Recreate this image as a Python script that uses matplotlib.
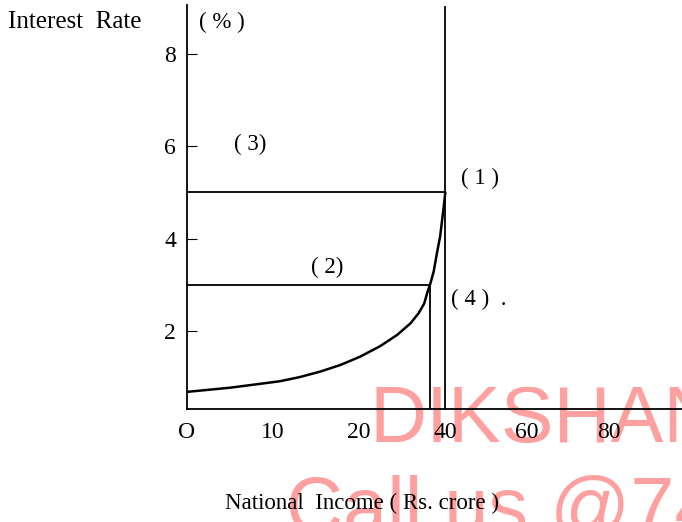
import numpy as np
import matplotlib
matplotlib.use("Agg")
import matplotlib.pyplot as plt

# National income (Rs. crore) vs interest rate (%) along the curve
income = [0, 5.0, 10.8, 13.1, 15.5, 17.8, 20.2, 24.9, 28.8, 31.9, 33.8, 35.1,
          35.9, 36.5, 37.3, 38.1, 38.8, 39.6, 40]
rate = [0.69, 0.78, 0.92, 1.01, 1.13, 1.27, 1.45, 1.68, 1.92, 2.17, 2.39, 2.60,
        2.86, 3.02, 3.29, 3.71, 4.05, 4.66, 5.0]

# Reference levels
rate_high = 5.0
rate_low = 3.0
income_full = 40
income_low = 36.5

x_ticks = [0, 10, 20, 40, 60, 80]
x_tick_labels = ["O", "10", "20", "40", "60", "80"]
y_ticks = [2, 4, 6, 8]
y_tick_labels = ["2", "4", "6", "8"]

serif = "Liberation Serif"
plt.rcParams["font.family"] = [serif, "DejaVu Serif"]

# Broken income axis: full scale up to 20, then compressed
K2 = 0.5      # 20..40
K3 = 0.474    # beyond 40


def fwd(v):
    v = np.asarray(v, dtype=float)
    return np.where(v <= 20, v,
                    np.where(v <= 40, 20 + (v - 20) * K2, 30 + (v - 40) * K3))


def inv(p):
    p = np.asarray(p, dtype=float)
    return np.where(p <= 20, p,
                    np.where(p <= 30, 20 + (p - 20) / K2, 40 + (p - 30) / K3))


fig = plt.figure(figsize=(6.82, 5.22), dpi=100)
fig.patch.set_facecolor("white")
ax = fig.add_axes([187 / 682, 113 / 522, 495 / 682, 404 / 522])
ax.patch.set_facecolor("none")
ax.set_xscale("function", functions=(fwd, inv))
ax.set_xlim(0, 98)
ax.set_ylim(0.32, 9.05)

for side in ("top", "right"):
    ax.spines[side].set_visible(False)
for side in ("left", "bottom"):
    ax.spines[side].set_linewidth(1.3)
    ax.spines[side].set_color("black")

ax.set_xticks(x_ticks)
ax.set_xticklabels(x_tick_labels)
ax.set_yticks(y_ticks)
ax.set_yticklabels(y_tick_labels)
ax.xaxis.set_minor_locator(matplotlib.ticker.NullLocator())
ax.tick_params(axis="x", length=0, pad=9, labelsize=17)
ax.tick_params(axis="y", direction="in", length=7, width=0.8, pad=8, labelsize=17)

lw = 1.3
ymin = ax.get_ylim()[0]
ax.plot(income, rate, color="black", lw=1.8, solid_capstyle="round",
        solid_joinstyle="round")
ax.plot([0, income_full], [rate_high, rate_high], color="black", lw=lw)
ax.plot([0, income_low], [rate_low, rate_low], color="black", lw=lw)
ax.plot([income_low, income_low], [ymin, rate_low], color="black", lw=lw)
ax.plot([income_full, income_full], [ymin, 9.0], color="black", lw=lw)

fs = 16.5
ax.text(7.3, 6.03, "( 3)", fontsize=fs, ha="center", va="center")
ax.text(48.5, 5.31, "( 1 )", fontsize=fs, ha="center", va="center")
ax.text(16.3, 3.37, "( 2)", fontsize=fs, ha="center", va="center")
ax.text(41.3, 2.68, "( 4 )  .", fontsize=fs, ha="left", va="center")
ax.text(4.1, 8.68, "( % )", fontsize=fs, ha="center", va="center")

fig.text(8 / 682, 1 - 22 / 522, "Interest  Rate", fontsize=18, ha="left", va="center")
fig.text(362 / 682, 1 - 503 / 522, "National  Income ( Rs. crore )", fontsize=fs,
         ha="center", va="center")

# Watermark behind the drawing
wm = dict(fontsize=57, color="#ffa0a0", family="Liberation Sans", zorder=-1,
          ha="left", va="baseline")
fig.text(370 / 682, 1 - 442 / 522, "DIKSHANT", **wm)
fig.text(286 / 682, 1 - 533 / 522, "Call us @741", **wm)

fig.savefig("out.png", dpi=100, facecolor="white")
